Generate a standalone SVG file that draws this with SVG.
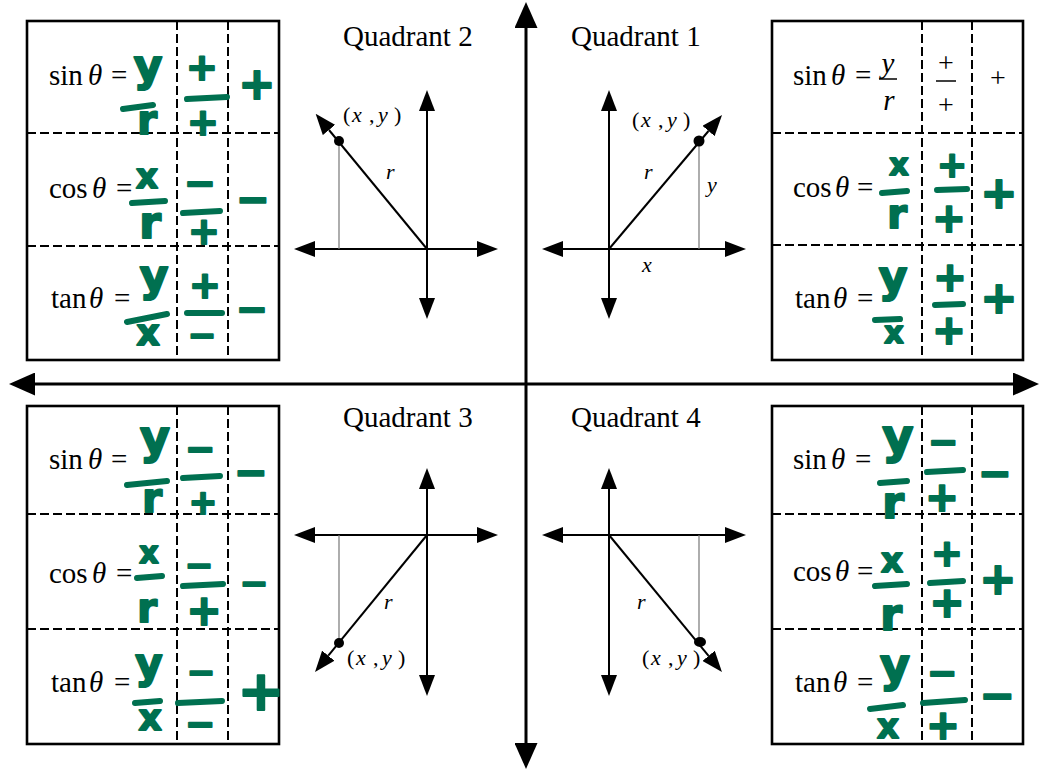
<svg xmlns="http://www.w3.org/2000/svg" width="1040" height="769" viewBox="0 0 1040 769">
<style>
.ser{font-family:"Liberation Serif","Times New Roman",serif;fill:#000}
.lbl{font-size:29px}
.pl{font-size:28px;text-anchor:middle}
.it{font-style:italic}
.sm{font-size:22px}
.frame{fill:#fff;stroke:#000;stroke-width:2.6}
.dash{stroke:#000;stroke-width:2;stroke-dasharray:9 4;fill:none}
.ax{stroke:#000;stroke-width:2;fill:none}
.main{stroke:#000;stroke-width:3;fill:none}
.thin{stroke:#777;stroke-width:1.2}
.hw{font-family:"DejaVu Sans",sans-serif;font-weight:bold;fill:#007050;stroke:#007050;stroke-width:2;stroke-linejoin:round;text-anchor:middle}
.pm{dominant-baseline:central}
.bar{stroke:#007050;stroke-width:6;stroke-linecap:round}
</style>
<defs>
<marker id="big" markerUnits="userSpaceOnUse" markerWidth="26" markerHeight="23" viewBox="0 0 26 23" refX="0" refY="11.5" orient="auto-start-reverse"><path d="M0,0L26,11.5L0,23z" fill="#000"/></marker>
<marker id="sa" markerUnits="userSpaceOnUse" markerWidth="21" markerHeight="16" viewBox="0 0 21 16" refX="0" refY="8" orient="auto-start-reverse"><path d="M0,0L21,8L0,16z" fill="#000"/></marker>
</defs>
<rect width="1040" height="769" fill="#fff"/>

<g id="connectors">
<line class="main" x1="526" y1="28" x2="526" y2="743" marker-start="url(#big)" marker-end="url(#big)"/>
<line class="main" x1="35" y1="384" x2="1013" y2="384" marker-start="url(#big)" marker-end="url(#big)"/>
</g>

<!-- Top-left table (Quadrant 2) -->
<g id="table-q2">
<rect class="frame" x="27" y="21" width="252" height="339"/>
<line class="dash" x1="177" y1="21" x2="177" y2="360"/>
<line class="dash" x1="228" y1="21" x2="228" y2="360"/>
<line class="dash" x1="27" y1="133" x2="279" y2="133"/>
<line class="dash" x1="27" y1="246" x2="279" y2="246"/>
<text class="ser lbl" x="49" y="85">sin<tspan class="it" x="88">θ</tspan><tspan x="111">=</tspan></text>
<text class="ser lbl" x="49" y="198">cos<tspan class="it" x="92">θ</tspan><tspan x="116">=</tspan></text>
<text class="ser lbl" x="51" y="308">tan<tspan class="it" x="89">θ</tspan><tspan x="114">=</tspan></text>
<text class="hw" x="148" y="81" font-size="44">y</text>
<line class="bar" x1="123" y1="109" x2="153" y2="105"/>
<text class="hw" x="147" y="134" font-size="40">r</text>
<text class="hw pm" x="202" y="67" font-size="38">+</text>
<line class="bar" x1="187" y1="99" x2="227" y2="97"/>
<text class="hw pm" x="203" y="122" font-size="38">+</text>
<text class="hw pm" x="257" y="83" font-size="44">+</text>
<text class="hw" x="147" y="188" font-size="34">x</text>
<line class="bar" x1="132" y1="203" x2="165" y2="201"/>
<text class="hw" x="150" y="238" font-size="44">r</text>
<text class="hw pm" x="200" y="183" font-size="38">−</text>
<line class="bar" x1="183" y1="213" x2="220" y2="211"/>
<text class="hw pm" x="204" y="231" font-size="38">+</text>
<text class="hw pm" x="253" y="199" font-size="40">−</text>
<text class="hw" x="154" y="291" font-size="44">y</text>
<line class="bar" x1="127" y1="322" x2="167" y2="314"/>
<text class="hw" x="148" y="345" font-size="36">x</text>
<text class="hw pm" x="205" y="285" font-size="38">+</text>
<line class="bar" x1="187" y1="313" x2="222" y2="313"/>
<text class="hw pm" x="202" y="335" font-size="34">−</text>
<text class="hw pm" x="252" y="309" font-size="38">−</text>
</g>

<!-- Top-right table (Quadrant 1) -->
<g id="table-q1">
<rect class="frame" x="772" y="21" width="251" height="339"/>
<line class="dash" x1="922" y1="21" x2="922" y2="360"/>
<line class="dash" x1="972" y1="21" x2="972" y2="360"/>
<line class="dash" x1="772" y1="133" x2="1023" y2="133"/>
<line class="dash" x1="772" y1="245" x2="1023" y2="245"/>
<text class="ser lbl" x="793" y="85">sin<tspan class="it" x="831">θ</tspan><tspan x="855">=</tspan></text>
<text class="ser lbl" x="793" y="197">cos<tspan class="it" x="835">θ</tspan><tspan x="857">=</tspan></text>
<text class="ser lbl" x="795" y="308">tan<tspan class="it" x="833">θ</tspan><tspan x="857">=</tspan></text>
<text class="ser lbl it" x="888" y="73" text-anchor="middle">y</text>
<line x1="879" y1="79" x2="897" y2="79" stroke="#000" stroke-width="1.5"/>
<text class="ser lbl it" x="889" y="110" text-anchor="middle">r</text>
<text class="ser pl" x="946" y="72">+</text>
<line x1="936" y1="81" x2="956" y2="81" stroke="#000" stroke-width="1.5"/>
<text class="ser pl" x="946" y="114">+</text>
<text class="ser pl" x="998" y="87">+</text>
<text class="hw" x="899" y="175" font-size="30">x</text>
<line class="bar" x1="882" y1="193" x2="907" y2="191"/>
<text class="hw" x="897" y="228" font-size="40">r</text>
<text class="hw pm" x="952" y="164" font-size="36">+</text>
<line class="bar" x1="937" y1="190" x2="967" y2="189"/>
<text class="hw pm" x="949" y="218" font-size="40">+</text>
<text class="hw pm" x="999" y="192" font-size="44">+</text>
<text class="hw" x="893" y="292" font-size="44">y</text>
<line class="bar" x1="875" y1="320" x2="900" y2="319"/>
<text class="hw" x="894" y="343" font-size="30">x</text>
<text class="hw pm" x="950" y="277" font-size="40">+</text>
<line class="bar" x1="935" y1="305" x2="963" y2="304"/>
<text class="hw pm" x="949" y="330" font-size="40">+</text>
<text class="hw pm" x="999" y="297" font-size="44">+</text>
</g>

<!-- Bottom-left table (Quadrant 3) -->
<g id="table-q3">
<rect class="frame" x="27" y="406" width="252" height="338"/>
<line class="dash" x1="177" y1="406" x2="177" y2="744"/>
<line class="dash" x1="228" y1="406" x2="228" y2="744"/>
<line class="dash" x1="27" y1="514" x2="279" y2="514"/>
<line class="dash" x1="27" y1="629" x2="279" y2="629"/>
<text class="ser lbl" x="49" y="469">sin<tspan class="it" x="88">θ</tspan><tspan x="111">=</tspan></text>
<text class="ser lbl" x="49" y="583">cos<tspan class="it" x="92">θ</tspan><tspan x="116">=</tspan></text>
<text class="ser lbl" x="51" y="692">tan<tspan class="it" x="89">θ</tspan><tspan x="114">=</tspan></text>
<text class="hw" x="155" y="453" font-size="46">y</text>
<line class="bar" x1="127" y1="485" x2="167" y2="481"/>
<text class="hw" x="152" y="512" font-size="40">r</text>
<text class="hw pm" x="200" y="448" font-size="36">−</text>
<line class="bar" x1="183" y1="478" x2="220" y2="476"/>
<text class="hw pm" x="203" y="502" font-size="34">+</text>
<text class="hw pm" x="251" y="472" font-size="40">−</text>
<text class="hw" x="149" y="563" font-size="30">x</text>
<line class="bar" x1="137" y1="578" x2="162" y2="576"/>
<text class="hw" x="147" y="622" font-size="40">r</text>
<text class="hw pm" x="199" y="565" font-size="34">−</text>
<line class="bar" x1="183" y1="586" x2="223" y2="584"/>
<text class="hw pm" x="204" y="610" font-size="42">+</text>
<text class="hw pm" x="254" y="583" font-size="34">−</text>
<text class="hw" x="149" y="678" font-size="42">y</text>
<line class="bar" x1="135" y1="703" x2="160" y2="701"/>
<text class="hw" x="150" y="730" font-size="36">x</text>
<text class="hw pm" x="201" y="672" font-size="34">−</text>
<line class="bar" x1="178" y1="703" x2="222" y2="701"/>
<text class="hw pm" x="200" y="723" font-size="36">−</text>
<text class="hw pm" x="261" y="690" font-size="56">+</text>
</g>

<!-- Bottom-right table (Quadrant 4) -->
<g id="table-q4">
<rect class="frame" x="772" y="406" width="251" height="338"/>
<line class="dash" x1="922" y1="406" x2="922" y2="744"/>
<line class="dash" x1="972" y1="406" x2="972" y2="744"/>
<line class="dash" x1="772" y1="514" x2="1023" y2="514"/>
<line class="dash" x1="772" y1="629" x2="1023" y2="629"/>
<text class="ser lbl" x="793" y="469">sin<tspan class="it" x="831">θ</tspan><tspan x="855">=</tspan></text>
<text class="ser lbl" x="793" y="581">cos<tspan class="it" x="835">θ</tspan><tspan x="857">=</tspan></text>
<text class="ser lbl" x="795" y="692">tan<tspan class="it" x="833">θ</tspan><tspan x="857">=</tspan></text>
<text class="hw" x="898" y="453" font-size="48">y</text>
<line class="bar" x1="880" y1="483" x2="907" y2="481"/>
<text class="hw" x="893" y="518" font-size="44">r</text>
<text class="hw pm" x="943" y="441" font-size="36">−</text>
<line class="bar" x1="927" y1="472" x2="963" y2="470"/>
<text class="hw pm" x="942" y="497" font-size="40">+</text>
<text class="hw pm" x="995" y="473" font-size="40">−</text>
<text class="hw" x="892" y="572" font-size="34">x</text>
<line class="bar" x1="875" y1="586" x2="907" y2="584"/>
<text class="hw" x="891" y="630" font-size="44">r</text>
<text class="hw pm" x="947" y="553" font-size="38">+</text>
<line class="bar" x1="930" y1="583" x2="963" y2="581"/>
<text class="hw pm" x="947" y="602" font-size="42">+</text>
<text class="hw pm" x="998" y="578" font-size="44">+</text>
<text class="hw" x="895" y="681" font-size="46">y</text>
<line class="bar" x1="870" y1="709" x2="903" y2="705"/>
<text class="hw" x="888" y="738" font-size="34">x</text>
<text class="hw pm" x="942" y="672" font-size="36">−</text>
<line class="bar" x1="923" y1="703" x2="965" y2="700"/>
<text class="hw pm" x="943" y="725" font-size="40">+</text>
<text class="hw pm" x="997" y="695" font-size="42">−</text>
</g>

<!-- Quadrant 2 graph -->
<g id="graph-q2">
<text class="ser lbl" x="343" y="46">Quadrant 2</text>
<line class="ax" x1="427" y1="298" x2="427" y2="111" marker-start="url(#sa)" marker-end="url(#sa)"/>
<line class="ax" x1="315" y1="249" x2="477" y2="249" marker-start="url(#sa)" marker-end="url(#sa)"/>
<line class="thin" x1="339" y1="141" x2="339" y2="249"/>
<line class="ax" x1="427" y1="249" x2="329" y2="130" marker-end="url(#sa)"/>
<circle cx="339" cy="141" r="5"/>
<text class="ser sm" x="343" y="122">(<tspan class="it" x="352">x</tspan><tspan x="369">,</tspan><tspan class="it" x="378">y</tspan><tspan x="394">)</tspan></text>
<text class="ser sm it" x="386" y="179">r</text>
</g>

<!-- Quadrant 1 graph -->
<g id="graph-q1">
<text class="ser lbl" x="571" y="46">Quadrant 1</text>
<line class="ax" x1="609" y1="298" x2="609" y2="111" marker-start="url(#sa)" marker-end="url(#sa)"/>
<line class="ax" x1="563" y1="249" x2="725" y2="249" marker-start="url(#sa)" marker-end="url(#sa)"/>
<line class="thin" x1="699" y1="141" x2="699" y2="249"/>
<line class="ax" x1="609" y1="249" x2="708.5" y2="131" marker-end="url(#sa)"/>
<circle cx="699" cy="141" r="5.5"/>
<text class="ser sm" x="632" y="127">(<tspan class="it" x="641">x</tspan><tspan x="658">,</tspan><tspan class="it" x="667">y</tspan><tspan x="683">)</tspan></text>
<text class="ser sm it" x="644" y="179">r</text>
<text class="ser sm it" x="707" y="192">y</text>
<text class="ser sm it" x="642" y="272">x</text>
</g>

<!-- Quadrant 3 graph -->
<g id="graph-q3">
<text class="ser lbl" x="343" y="427">Quadrant 3</text>
<line class="ax" x1="427" y1="675" x2="427" y2="489" marker-start="url(#sa)" marker-end="url(#sa)"/>
<line class="ax" x1="315" y1="535" x2="477" y2="535" marker-start="url(#sa)" marker-end="url(#sa)"/>
<line class="thin" x1="339" y1="535" x2="339" y2="644"/>
<line class="ax" x1="427" y1="535" x2="328.3" y2="655.7" marker-end="url(#sa)"/>
<circle cx="339" cy="643" r="5"/>
<text class="ser sm" x="347" y="665">(<tspan class="it" x="356">x</tspan><tspan x="373">,</tspan><tspan class="it" x="382">y</tspan><tspan x="398">)</tspan></text>
<text class="ser sm it" x="384" y="609">r</text>
</g>

<!-- Quadrant 4 graph -->
<g id="graph-q4">
<text class="ser lbl" x="571" y="427">Quadrant 4</text>
<line class="ax" x1="609" y1="675" x2="609" y2="489" marker-start="url(#sa)" marker-end="url(#sa)"/>
<line class="ax" x1="563" y1="535" x2="725" y2="535" marker-start="url(#sa)" marker-end="url(#sa)"/>
<line class="thin" x1="699" y1="535" x2="699" y2="642"/>
<line class="ax" x1="609" y1="535" x2="708.6" y2="655.8" marker-end="url(#sa)"/>
<ellipse cx="700" cy="642" rx="6" ry="5"/>
<text class="ser sm" x="642" y="665">(<tspan class="it" x="651">x</tspan><tspan x="668">,</tspan><tspan class="it" x="677">y</tspan><tspan x="693">)</tspan></text>
<text class="ser sm it" x="637" y="609">r</text>
</g>
</svg>
